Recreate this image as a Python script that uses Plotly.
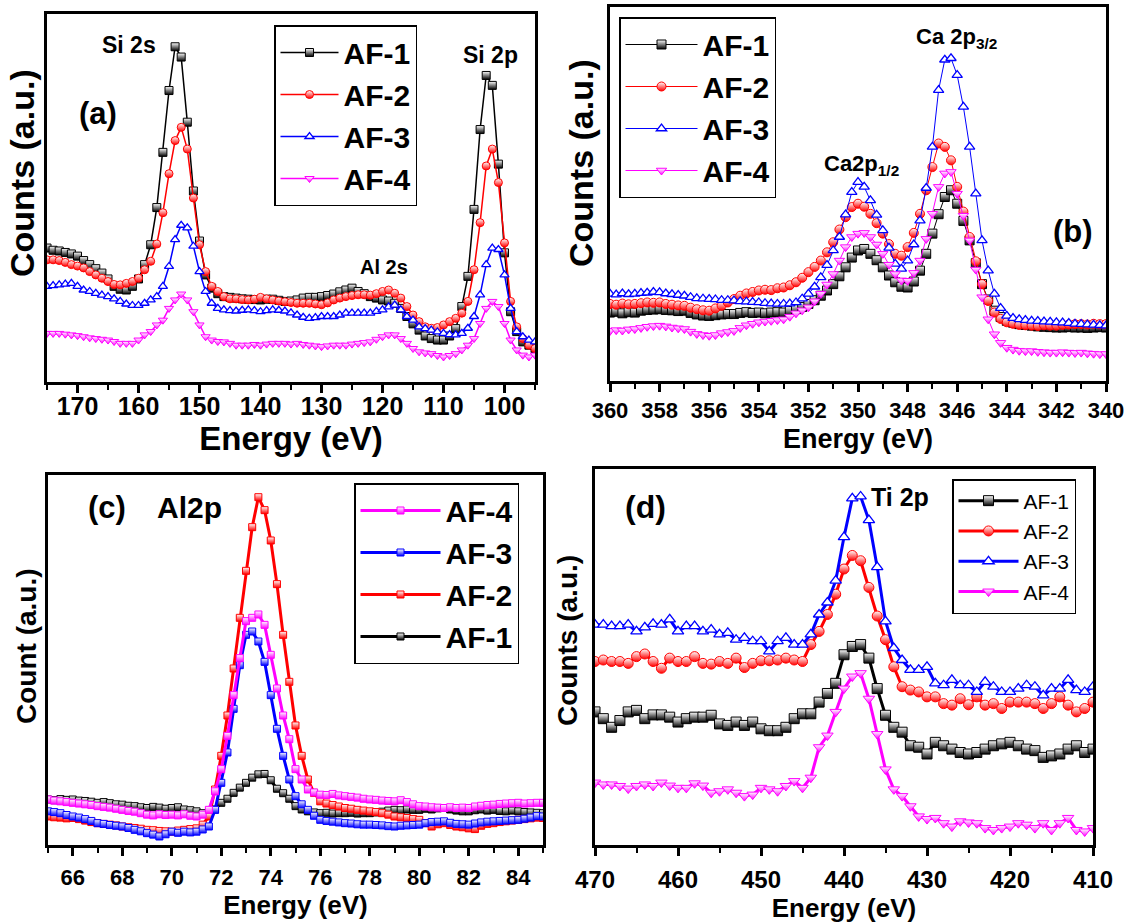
import plotly.graph_objects as go

FONT = "Arial, Liberation Sans, sans-serif"
W, H = 1127, 924

# ---------------- data ----------------
series_names = ["AF-1", "AF-2", "AF-3", "AF-4"]
series_colors = ["#000000", "#FF0000", "#0000FF", "#FF00FF"]

# (a) Si 2s / Al 2s / Si 2p, energy 175 -> 95 eV, step 1 eV
a_energy = [175 - i for i in range(81)]
a_af1 = [36.4, 35.8, 35.6, 35.2, 34.8, 34.2, 33.0, 31.9, 30.8, 29.6,
         28.0, 26.0, 25.2, 25.0, 26.0, 28.0, 31.9, 37.3, 47.4, 62.4,
         79.2, 91.1, 88.3, 70.6, 51.9, 38.3, 29.1, 25.5, 24.0, 23.2,
         23.0, 22.8, 22.6, 22.5, 22.4, 22.3, 22.5, 22.5, 22.2, 21.9,
         22.0, 22.3, 22.8, 23.0, 23.0, 23.2, 23.5, 23.9, 24.5, 25.0,
         25.5, 24.6, 24.0, 23.2, 22.8, 22.3, 22.0, 21.4, 20.0, 17.8,
         15.8, 14.1, 12.5, 11.8, 11.4, 11.4, 12.5, 14.5, 20.5, 28.7,
         46.9, 68.6, 83.3, 80.6, 59.2, 35.1, 19.1, 13.7, 10.9, 10.0,
         9.1]
a_af2 = [33.2, 33.2, 33.0, 32.5, 31.9, 31.5, 31.0, 30.0, 29.1, 28.2,
         27.3, 26.5, 26.4, 26.8, 27.3, 28.2, 30.5, 32.8, 37.5, 46.0,
         56.6, 65.6, 69.2, 63.3, 50.0, 37.3, 30.0, 26.0, 24.6, 23.2,
         22.6, 22.6, 22.4, 22.3, 22.5, 23.0, 22.6, 22.3, 22.0, 21.8,
         21.6, 21.4, 21.4, 21.4, 21.2, 21.0, 21.5, 22.3, 22.8, 23.2,
         23.5, 23.7, 23.7, 23.6, 24.0, 24.6, 25.0, 24.1, 22.8, 20.5,
         18.2, 16.4, 15.0, 14.6, 14.8, 15.5, 16.4, 17.3, 18.7, 21.9,
         30.5, 43.3, 58.7, 63.3, 54.2, 37.8, 21.9, 15.0, 11.8, 10.0,
         9.1]
a_af3 = [26.0, 26.2, 26.4, 26.6, 26.8, 26.0, 25.0, 24.6, 24.1, 23.6,
         23.2, 22.6, 21.9, 21.2, 20.8, 20.8, 21.4, 22.3, 23.2, 26.0,
         31.4, 38.7, 42.6, 41.9, 36.9, 30.0, 24.6, 21.4, 20.0, 19.6,
         19.4, 19.3, 19.5, 19.6, 19.4, 19.1, 19.4, 19.6, 19.5, 19.3,
         18.8, 18.2, 17.6, 17.3, 17.5, 17.8, 17.8, 17.8, 18.2, 18.7,
         18.7, 18.7, 18.7, 18.7, 19.2, 19.6, 20.4, 20.9, 19.6, 17.8,
         16.8, 15.0, 14.5, 14.1, 13.6, 13.2, 12.9, 12.8, 13.2, 14.6,
         17.8, 23.7, 31.9, 36.4, 36.0, 29.1, 20.0, 13.7, 12.3, 11.4,
         10.9]
a_af4 = [13.2, 13.2, 13.2, 13.0, 12.8, 12.6, 12.3, 12.0, 11.8, 11.6,
         11.4, 11.0, 10.5, 10.5, 10.5, 11.4, 12.8, 13.7, 15.5, 16.8,
         20.0, 22.3, 23.9, 22.3, 19.1, 15.5, 12.3, 11.4, 11.0, 10.9,
         10.5, 10.0, 10.0, 10.0, 10.2, 10.0, 10.3, 10.5, 10.5, 10.5,
         10.3, 10.5, 10.2, 10.0, 9.8, 9.6, 9.8, 10.0, 10.0, 10.0,
         10.3, 10.5, 10.7, 10.9, 11.6, 12.3, 12.8, 12.8, 11.8, 10.5,
         9.1, 8.2, 7.9, 7.7, 7.2, 6.8, 7.2, 7.7, 8.7, 10.0,
         11.8, 15.9, 20.0, 21.9, 20.5, 15.9, 11.4, 8.7, 7.3, 6.8,
         7.3]

# (b) Ca 2p, energy 360 -> 340 eV, step 0.25 eV
b_energy = [360 - 0.25 * i for i in range(81)]
b_af1 = [18.3, 18.5, 18.1, 18.4, 18.3, 18.8, 19.0, 19.1, 19.2, 19.0,
         18.9, 18.7, 18.8, 18.2, 17.8, 17.5, 17.4, 17.6, 17.8, 17.9,
         17.9, 18.2, 18.4, 18.2, 18.3, 18.1, 18.3, 18.4, 18.3, 18.7,
         19.2, 19.8, 20.6, 21.6, 22.8, 24.2, 25.9, 28.0, 30.4, 33.0,
         34.9, 35.3, 34.0, 32.3, 30.4, 28.2, 26.4, 25.2, 25.0, 26.6,
         29.5, 34.0, 39.4, 44.6, 49.2, 51.0, 47.4, 42.8, 37.6, 31.5,
         25.9, 21.8, 18.8, 17.1, 16.1, 15.6, 15.2, 15.0, 14.8, 14.6,
         14.5, 14.4, 14.3, 14.3, 14.4, 14.3, 14.3, 14.2, 14.3, 14.4,
         14.3]
b_af2 = [20.6, 20.4, 20.7, 20.5, 20.6, 20.8, 21.0, 20.9, 21.0, 20.6,
         20.4, 20.2, 20.1, 19.6, 19.2, 18.9, 18.8, 19.4, 20.1, 21.0,
         21.9, 22.8, 23.4, 23.8, 24.2, 24.4, 24.3, 24.8, 25.0, 25.6,
         26.4, 27.6, 29.1, 30.5, 32.2, 34.4, 37.1, 40.5, 43.8, 46.5,
         47.4, 46.6, 44.7, 42.2, 39.4, 36.6, 34.0, 33.5, 35.8, 39.6,
         44.7, 51.0, 57.2, 63.5, 62.6, 59.0, 51.9, 45.3, 38.5, 32.0,
         25.9, 21.4, 18.3, 16.6, 15.7, 15.3, 15.0, 14.9, 14.8, 14.7,
         14.9, 14.8, 14.8, 15.0, 15.1, 15.2, 15.2, 15.1, 15.3, 15.2,
         15.2]
b_af3 = [23.3, 23.1, 23.4, 23.2, 23.3, 23.5, 23.6, 23.8, 23.7, 23.4,
         23.2, 23.0, 22.8, 22.4, 22.1, 22.0, 21.9, 21.8, 21.6, 21.6,
         21.5, 21.3, 21.2, 21.1, 21.0, 20.8, 20.7, 20.6, 20.6, 20.7,
         21.0, 22.0, 23.3, 25.2, 27.7, 31.0, 34.9, 38.5, 44.5, 50.5,
         53.2, 51.9, 48.3, 44.4, 40.3, 35.6, 31.3, 30.0, 32.2, 36.5,
         42.9, 51.6, 62.6, 77.8, 85.9, 86.3, 81.8, 73.3, 62.6, 50.1,
         37.6, 29.5, 23.3, 19.5, 17.4, 16.8, 16.5, 16.3, 16.1, 16.0,
         15.9, 15.8, 15.7, 15.6, 15.5, 15.3, 15.2, 15.1, 15.0, 14.9,
         14.8]
b_af4 = [13.4, 13.6, 13.5, 13.8, 13.9, 14.2, 14.5, 14.7, 14.8, 14.6,
         14.3, 14.1, 13.9, 13.2, 12.6, 12.3, 12.1, 12.3, 12.8, 13.1,
         13.4, 14.2, 14.9, 15.3, 15.7, 15.9, 16.1, 16.3, 16.5, 17.2,
         18.1, 18.9, 19.7, 21.3, 23.3, 25.8, 28.6, 32.2, 35.8, 38.5,
         39.4, 39.6, 38.5, 36.5, 34.0, 31.1, 28.6, 26.9, 26.8, 28.9,
         32.2, 38.0, 44.7, 51.9, 55.5, 55.9, 50.1, 44.2, 37.6, 29.8,
         22.4, 16.5, 12.5, 10.2, 8.9, 8.4, 8.1, 8.0, 8.0, 7.8,
         7.7, 7.6, 7.6, 7.7, 7.6, 7.5, 7.6, 7.4, 7.3, 7.2,
         7.2]

# (c) Al 2p, energy 65 -> 85 eV, step 0.25 eV
c_energy = [65 + 0.25 * i for i in range(81)]
c_af1 = [12.3, 12.1, 12.4, 12.2, 12.3, 12.0, 11.9, 11.7, 11.4, 11.6,
         11.3, 11.0, 10.9, 10.6, 10.5, 10.2, 10.0, 10.3, 10.1, 9.8,
         10.0, 10.2, 9.6, 9.4, 9.1, 8.6, 8.2, 9.6, 11.4, 12.5,
         14.1, 15.5, 16.8, 18.2, 19.1, 19.2, 17.5, 15.2, 14.0, 12.5,
         10.5, 9.6, 9.1, 8.8, 8.6, 8.7, 8.5, 8.6, 8.6, 8.7,
         8.5, 8.6, 8.6, 8.8, 9.0, 9.3, 9.5, 9.4, 9.6, 9.5,
         9.5, 9.8, 9.6, 9.9, 10.0, 9.6, 9.3, 9.1, 9.1, 9.4,
         9.6, 9.3, 9.5, 9.2, 9.1, 9.3, 9.1, 8.9, 8.8, 8.7,
         8.6]
c_af2 = [7.7, 7.5, 7.4, 7.2, 7.3, 7.0, 6.6, 6.2, 5.9, 5.7,
         5.5, 5.3, 5.0, 4.8, 4.6, 4.4, 4.1, 4.0, 3.8, 3.7,
         3.6, 3.9, 4.1, 4.3, 4.5, 5.5, 7.7, 15.0, 24.1, 35.0,
         47.7, 61.4, 74.1, 85.9, 94.0, 90.5, 82.3, 70.5, 56.8, 44.1,
         32.3, 24.1, 17.7, 14.1, 11.8, 11.2, 10.8, 10.4, 10.0, 9.8,
         9.5, 9.3, 9.1, 8.9, 8.6, 8.2, 7.7, 7.5, 7.3, 7.0,
         6.8, 5.9, 5.0, 5.6, 5.9, 5.4, 5.0, 4.8, 4.5, 4.3,
         5.2, 5.7, 5.9, 6.2, 6.4, 6.6, 6.8, 7.0, 7.2, 7.4,
         7.3]
c_af3 = [9.1, 8.9, 8.6, 8.1, 7.7, 7.4, 7.0, 6.5, 5.9, 5.7,
         5.4, 5.2, 5.0, 4.6, 4.1, 3.7, 3.2, 2.8, 2.3, 2.9,
         3.6, 3.3, 3.6, 3.4, 3.6, 4.2, 5.0, 9.5, 16.8, 25.0,
         36.8, 48.6, 56.8, 57.7, 55.0, 49.5, 40.5, 31.4, 24.1, 17.7,
         13.2, 11.0, 9.5, 7.9, 6.8, 6.5, 6.3, 6.1, 5.9, 5.8,
         5.6, 5.5, 5.5, 5.4, 5.3, 5.1, 5.0, 5.2, 5.3, 5.4,
         5.5, 5.9, 6.2, 6.3, 6.4, 6.0, 5.7, 5.6, 5.5, 5.8,
         6.1, 6.3, 6.4, 6.5, 6.6, 6.7, 6.8, 7.1, 7.4, 7.8,
         7.7]
c_af4 = [12.3, 12.0, 11.8, 11.6, 11.4, 11.2, 11.0, 10.8, 10.5, 10.3,
         10.1, 9.8, 9.5, 9.2, 9.0, 8.6, 8.2, 8.0, 8.3, 8.1,
         8.2, 8.0, 8.3, 7.9, 7.7, 8.2, 9.5, 14.5, 20.5, 29.5,
         40.5, 50.5, 60.5, 61.4, 62.3, 59.5, 51.4, 42.3, 35.0, 28.6,
         20.5, 17.7, 15.0, 14.2, 13.6, 13.5, 13.8, 13.4, 13.2, 13.0,
         12.8, 12.5, 12.3, 12.2, 12.0, 11.9, 11.8, 12.1, 11.6, 11.0,
         10.5, 10.4, 10.2, 10.1, 10.0, 10.2, 10.0, 10.1, 10.0, 10.4,
         10.6, 10.8, 10.9, 11.1, 11.2, 11.3, 11.4, 11.2, 11.3, 11.4,
         11.4]

# (d) Ti 2p, energy 470 -> 410 eV, step 1 eV
d_energy = [470 - i for i in range(61)]
d_af1 = [35.4, 33.6, 31.3, 33.1, 35.4, 35.8, 33.6, 34.6, 34.6, 34.0,
         32.7, 33.6, 34.0, 34.0, 34.5, 32.2, 31.8, 32.7, 31.8, 32.7,
         30.9, 30.4, 30.4, 31.3, 33.6, 34.9, 34.9, 38.0, 40.3, 43.0,
         50.6, 52.8, 53.3, 49.7, 41.6, 34.5, 31.3, 30.0, 26.4, 26.0,
         24.2, 27.3, 26.4, 25.5, 24.6, 24.2, 24.6, 25.5, 26.4, 26.9,
         27.3, 26.4, 25.5, 25.1, 23.3, 23.7, 24.2, 25.5, 26.4, 24.6,
         25.5]
d_af2 = [48.8, 49.2, 48.8, 48.8, 48.3, 50.1, 50.8, 48.8, 47.0, 49.7,
         48.8, 48.8, 50.1, 48.3, 48.1, 48.8, 48.3, 49.7, 47.2, 48.3,
         49.0, 49.0, 49.2, 49.7, 49.2, 48.8, 53.3, 56.8, 61.3, 66.7,
         73.4, 77.0, 75.6, 68.5, 60.9, 54.6, 47.4, 42.1, 41.2, 40.7,
         39.4, 39.4, 37.6, 37.2, 38.9, 37.3, 39.4, 37.2, 37.6, 36.3,
         38.0, 38.0, 38.0, 37.6, 36.3, 37.6, 39.4, 37.2, 35.4, 36.3,
         38.0]
d_af3 = [58.6, 58.6, 58.2, 58.2, 58.6, 56.8, 57.9, 58.8, 58.6, 60.0,
         56.8, 58.2, 58.2, 56.8, 57.3, 56.0, 56.4, 54.6, 55.1, 54.2,
         54.2, 51.5, 54.2, 55.1, 53.3, 53.3, 56.0, 61.3, 64.5, 70.3,
         81.9, 92.2, 92.7, 86.4, 73.9, 59.5, 52.4, 49.2, 46.6, 46.6,
         47.4, 43.0, 42.5, 43.9, 42.5, 42.5, 40.7, 43.4, 42.1, 40.7,
         40.7, 41.6, 42.5, 42.1, 39.8, 41.6, 41.6, 43.9, 41.2, 40.7,
         42.1]
d_af4 = [16.6, 16.1, 16.1, 15.7, 15.0, 15.7, 16.1, 15.7, 16.6, 15.8,
         15.2, 15.2, 16.4, 15.8, 13.9, 14.3, 14.8, 13.9, 13.0, 13.4,
         15.2, 14.8, 14.3, 15.7, 17.0, 15.2, 17.9, 26.0, 29.1, 35.4,
         41.6, 44.8, 45.7, 38.9, 29.5, 20.1, 14.8, 13.0, 10.3, 7.6,
         6.9, 7.2, 5.8, 4.9, 6.3, 6.0, 5.8, 4.5, 4.0, 4.5,
         4.9, 5.8, 5.4, 4.5, 5.8, 4.0, 5.8, 7.2, 4.0, 3.6,
         4.5]

for name, xs, ys_list in [("a", a_energy, [a_af1, a_af2, a_af3, a_af4]),
                          ("b", b_energy, [b_af1, b_af2, b_af3, b_af4]),
                          ("c", c_energy, [c_af1, c_af2, c_af3, c_af4]),
                          ("d", d_energy, [d_af1, d_af2, d_af3, d_af4])]:
    for ys in ys_list:
        if len(ys) != len(xs):
            raise ValueError(f"panel {name}: {len(ys)} values vs {len(xs)} energies")

# ---------------- helpers ----------------
def px_x(p):
    return p / W

def px_y(p):
    return 1 - p / H

def marker(symbol, color, size, style):
    if style == "half":
        return dict(symbol=symbol, size=size, color="white",
                    gradient=dict(type="vertical", color=color),
                    line=dict(color=color, width=1))
    if style == "open":
        return dict(symbol=symbol, size=size, color="white",
                    line=dict(color=color, width=1.3))
    return dict(symbol=symbol, size=size, color=color, line=dict(color=color, width=1))

fig = go.Figure()

panels = [
    (a_energy, [a_af1, a_af2, a_af3, a_af4], "x", "y", "legend",
     ["square", "circle", "triangle-up", "triangle-down"], ["half", "half", "open", "half"], 8, 1.5),
    (b_energy, [b_af1, b_af2, b_af3, b_af4], "x2", "y2", "legend2",
     ["square", "circle", "triangle-up", "triangle-down"], ["half", "half", "open", "half"], 9, 1.0),
    (c_energy, [c_af1, c_af2, c_af3, c_af4], "x3", "y3", "legend3",
     ["square", "square", "square", "square"], ["half", "half", "half", "half"], 7, 3.0),
    (d_energy, [d_af1, d_af2, d_af3, d_af4], "x4", "y4", "legend4",
     ["square", "circle", "triangle-up", "triangle-down"], ["half", "half", "open", "half"], 10, 3.0),
]

for xs, ys_list, xa, ya, lg, syms, styles, ms, lw in panels:
    for name, color, ys, sym, st in zip(series_names, series_colors, ys_list, syms, styles):
        fig.add_trace(go.Scatter(
            x=xs, y=ys, name=name, mode="lines+markers",
            line=dict(color=color, width=lw),
            marker=marker(sym, color, ms, st),
            xaxis=xa, yaxis=ya, legend=lg))

def xaxis(domain, anchor, rng, dtick, mdtick, tsize, tisize, lab_off, standoff):
    return dict(domain=domain, anchor=anchor, range=rng, autorange=False,
                showline=True, linewidth=3, linecolor="black", mirror=True,
                ticks="outside", ticklen=8, tickwidth=2.5, tickcolor="black",
                tick0=0, dtick=dtick, ticklabelstandoff=lab_off,
                minor=dict(dtick=mdtick, tick0=0, ticks="outside", ticklen=5,
                           tickwidth=2, tickcolor="black"),
                showgrid=False, zeroline=False, automargin=False,
                tickfont=dict(family=FONT, size=tsize, color="black", weight="bold"),
                title=dict(text="Energy (eV)", standoff=standoff,
                           font=dict(family=FONT, size=tisize, color="black", weight="bold")))

def yaxis(domain, anchor):
    return dict(domain=domain, anchor=anchor, range=[0, 100], autorange=False,
                showline=True, linewidth=3, linecolor="black", mirror=True,
                ticks="", showticklabels=False, showgrid=False, zeroline=False,
                automargin=False)

def legend(x, y, size, bold, width):
    return dict(x=px_x(x), y=px_y(y), xanchor="left", yanchor="top",
                bgcolor="white", bordercolor="black", borderwidth=1.5,
                font=dict(family=FONT, size=size, color="black",
                          weight="bold" if bold else "normal"),
                itemwidth=width, tracegroupgap=0)

leg3 = legend(354, 483, 30, True, 80)
leg3["traceorder"] = "reversed"

fig.update_layout(
    width=W, height=H,
    margin=dict(l=0, r=0, t=0, b=0),
    paper_bgcolor="white", plot_bgcolor="white",
    showlegend=True,
    xaxis=xaxis([px_x(47), px_x(535)], "y", [175, 95], 10, 5, 25, 33, -8, 0),
    yaxis=yaxis([px_y(382), px_y(14)], "x"),
    xaxis2=xaxis([px_x(610), px_x(1106)], "y2", [360, 340], 2, 1, 22, 27, 0, 7),
    yaxis2=yaxis([px_y(381), px_y(7)], "x2"),
    xaxis3=xaxis([px_x(48), px_x(543)], "y3", [65, 85], 2, 1, 22, 26, 3, 7),
    yaxis3=yaxis([px_y(845), px_y(475)], "x3"),
    xaxis4=xaxis([px_x(595), px_x(1093)], "y4", [470, 410], 10, 5, 24, 26, 3, 2),
    yaxis4=yaxis([px_y(845), px_y(469)], "x4"),
    legend=legend(274, 25, 30, True, 58),
    legend2=legend(619, 17, 30, True, 72),
    legend3=leg3,
    legend4=legend(952, 479, 21, False, 60),
)

def label(text, x, y, size, angle=0):
    fig.add_annotation(text=text, x=px_x(x), y=px_y(y), xref="paper", yref="paper",
                       xanchor="center", yanchor="middle", showarrow=False, textangle=angle,
                       font=dict(family=FONT, size=size, color="black", weight="bold"))

# y-axis titles
label("Counts (a.u.)", 22, 173, 34, -90)
label("Counts (a.u.)", 581, 163, 34, -90)
label("Count (a.u.)", 26, 646, 28, -90)
label("Counts (a.u.)", 567, 641, 28, -90)

# panel labels
label("Si 2s", 129, 45, 23)
label("(a)", 98, 114, 31)
label("Si 2p", 490, 55, 23)
label("Al 2s", 384, 267, 20)
label("Ca 2p<sub>3/2</sub>", 956, 38, 22)
label("Ca2p<sub>1/2</sub>", 861, 165, 22)
label("(b)", 1073, 232, 31)
label("(c)", 107, 507, 31)
label("Al2p", 189, 507, 30)
label("(d)", 645, 507, 32)
label("Ti 2p", 900, 497, 25)

fig.write_html("out.html")
